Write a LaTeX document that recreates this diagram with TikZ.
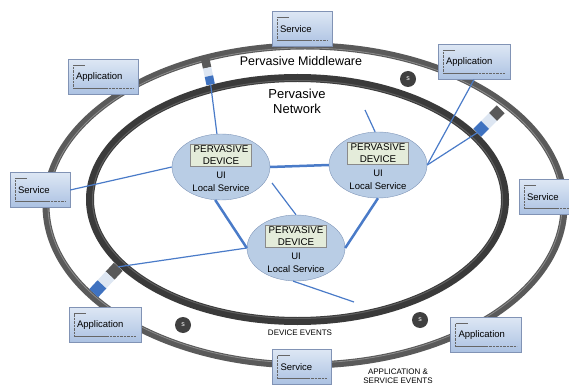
\documentclass[tikz,border=0pt]{standalone}
\usepackage{fontspec}
\setmainfont{Liberation Sans}
\usetikzlibrary{shapes.geometric,positioning}
\definecolor{ringdark}{HTML}{5A5A5A}
\definecolor{ringhi}{HTML}{8C8C8C}
\definecolor{netdark}{HTML}{3A3A3A}
\definecolor{nethi}{HTML}{5E5E5E}
\definecolor{devfill}{HTML}{B9CDE5}
\definecolor{devedge}{HTML}{8096B8}
\definecolor{labelfill}{HTML}{E4ECDA}
\definecolor{labeledge}{HTML}{8A8A8A}
\definecolor{boxtop}{HTML}{DDE7F4}
\definecolor{boxbot}{HTML}{ABC1E2}
\definecolor{boxedge}{HTML}{8193B5}
\definecolor{linkblue}{HTML}{4A7BC8}
\definecolor{plugdark}{HTML}{595959}
\definecolor{pluglight}{HTML}{DDE6F2}
\definecolor{plugblue}{HTML}{3F72C0}
\definecolor{evtfill}{HTML}{404040}
\tikzset{
	outring/.style={line width=7pt,draw=ringdark},
	netring/.style={line width=8pt,draw=netdark},
	device/.style={ellipse,draw=devedge,fill=devfill,minimum width=98pt,minimum height=66pt},
	devlabel/.style={draw=labeledge,fill=labelfill,minimum width=61pt,inner sep=1.5pt,align=center,font=\fontsize{9.8}{11.5}\selectfont},
	devtext/.style={align=center,inner sep=0pt,font=\fontsize{9.5}{13}\selectfont},
	boxmark/.style={draw=gray!80!black,line width=.4pt},
	box/.style={rectangle,draw=boxedge,top color=boxtop,bottom color=boxbot,minimum height=35pt,
		text width=#1,inner xsep=8pt,align=left,font=\fontsize{9.5}{11}\selectfont,
		path picture={
			\draw[boxmark] ([shift={(5pt,-6pt)}]path picture bounding box.north west) -- ++(12pt,0pt);
			\draw[boxmark,densely dotted] ([shift={(5pt,-6pt)}]path picture bounding box.north west)
				-- ([shift={(5pt,6pt)}]path picture bounding box.south west)
				-- ([shift={(-5pt,6pt)}]path picture bounding box.south east);
			\draw[boxmark] ([shift={(5pt,6pt)}]path picture bounding box.south west) -- ++(32pt,0pt);
		}},
	box/.default=54pt,
	link/.style={draw=linkblue,line width=1.2pt},
	biglink/.style={link,line width=2.5pt},
	evt/.style={circle,fill=evtfill,text=white,minimum size=16pt,inner sep=0pt,font=\fontsize{7}{8}\selectfont},
	plug/.pic={
		\fill[plugdark] (-5,-15) rectangle (5,-5);
		\fill[pluglight] (-5,-5) rectangle (5,5);
		\fill[plugblue] (-5,5) rectangle (5,15);
		\coordinate (-top) at (0,-15);
		\coordinate (-end) at (0,15);
	}
}
\begin{document}
\begin{tikzpicture}[x=1pt,y=-1pt]
	\useasboundingbox (0,0) rectangle (569,387);
	\clip (0,0) rectangle (569,387);
	\draw[outring] (305,205.5) ellipse [x radius=259pt, y radius=159.5pt];
	\draw[ringhi,line width=.8pt] (305,205.5) ellipse [x radius=257pt, y radius=157.5pt];
	\draw[netring] (297.5,199.5) ellipse [x radius=207.5pt, y radius=121.5pt];
	\draw[nethi,line width=1pt] (297.5,199.5) ellipse [x radius=205pt, y radius=119pt];
	\pic[rotate=12,scale=.85] (pA) at (208,72) {plug};
	\pic[rotate=-45,scale=1.1] (pB) at (489,121) {plug};
	\pic[rotate=-43,scale=1.2] (pC) at (106,280) {plug};
	\node[box=44pt] (srvT) at (302,29) {Service};
	\node[box] (appTL) at (103,77) {Application};
	\node[box=56pt] (appTR) at (474,62) {Application};
	\node[box=44pt] (srvL) at (40,190) {Service};
	\node[box=44pt] (srvR) at (549,197) {Service};
	\node[box=56pt] (appBL) at (105,325) {Application};
	\node[box=43pt] (srvB) at (302,367) {Service};
	\node[box=55pt] (appBR) at (486,335) {Application};
	\foreach \n/\x/\y in {d1/221/167,d2/378/165,d3/296/248}{
		\node[device] (\n) at (\x,\y) {};
		\node[devlabel] (\n-lbl) at ([yshift=12pt]\n.center) {PERVASIVE\\DEVICE};
		\node[devtext] (\n-txt) at ([yshift=-15pt]\n.center) {UI\\Local Service};
	}
	\foreach \n/\x/\y in {s1/408/79,s2/183/325,s3/420/320}
		\node[evt] (\n) at (\x,\y) {s};
	\node[font=\fontsize{12.5}{14}\selectfont] (mwtitle) at (301,61) {Pervasive Middleware};
	\node[align=center,font=\fontsize{13}{15}\selectfont] (nettitle) at (297,101) {Pervasive\\Network};
	\node[font=\fontsize{8}{9.5}\selectfont] (devevt) at (300,333) {DEVICE EVENTS};
	\node[align=center,font=\fontsize{8}{9.5}\selectfont] (appevt) at (398,376) {APPLICATION \&\\SERVICE EVENTS};
	\coordinate (stubN) at (365,110);
	\coordinate (stubT) at (272,183);
	\coordinate (stubS) at (354,302);
	\draw[biglink] (d1.east) -- (d2.west);
	\draw[biglink] (d1.-100) -- (d3.west);
	\draw[biglink] (d2.south) -- (d3.east);
	\draw[link] (d1.west) -- (srvL.east);
	\draw[link] (d1.97) -- (pA-end);
	\draw[link] (d2.east) -- (appTR.south);
	\draw[link] (d2.east) -- (pB-end);
	\draw[link] (d2.95) -- (stubN);
	\draw[link] (d3.west) -- (pC-top);
	\draw[link] (d3.north) -- (stubT);
	\draw[link] (d3.-95) -- (stubS);
\end{tikzpicture}
\end{document}
